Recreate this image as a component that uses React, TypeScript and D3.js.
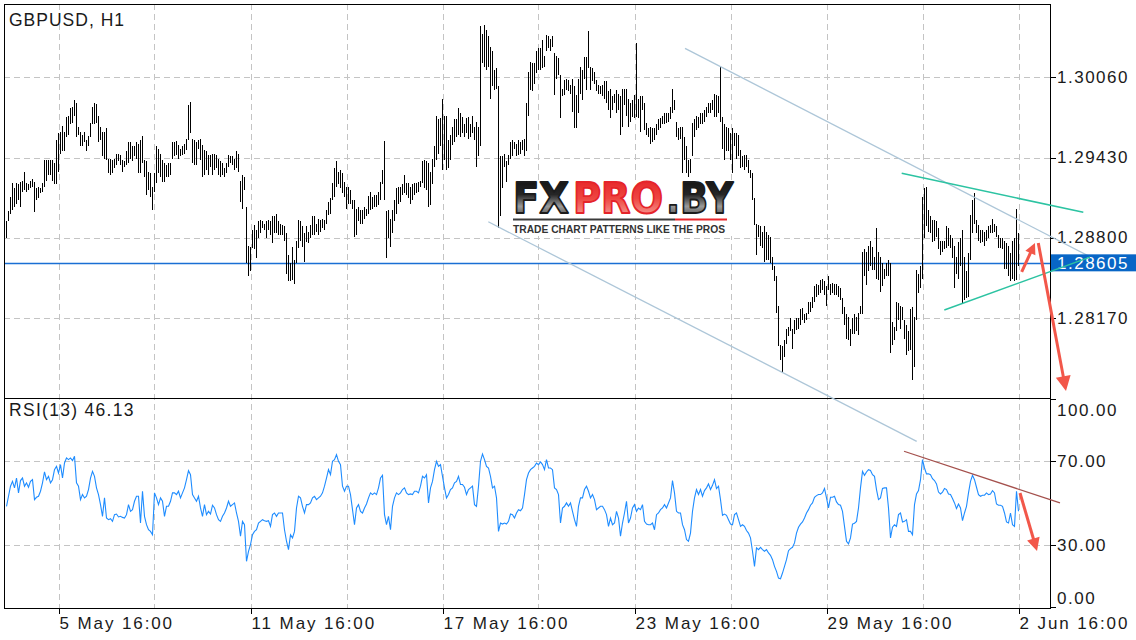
import React, { useEffect, useRef } from 'react';
import * as d3 from 'd3';

// GBPUSD H1 bars (high / low), one per hour
const highs = [
  1.2893,1.2901,1.2912,1.2923,1.2919,1.2923,1.2922,1.2924,1.2925,1.2932,
  1.2923,1.2922,1.2925,1.2926,1.2924,1.2919,1.2920,1.2919,1.2923,1.2941,
  1.2941,1.2941,1.2941,1.2941,1.2939,1.2957,1.2962,1.2963,1.2968,1.2963,
  1.2975,1.2976,1.2982,1.2983,1.2988,1.2986,1.2967,1.2963,1.2961,1.2963,
  1.2957,1.2960,1.2970,1.2983,1.2986,1.2985,1.2976,1.2967,1.2963,1.2963,
  1.2966,1.2942,1.2942,1.2941,1.2942,1.2946,1.2946,1.2945,1.2941,1.2940,
  1.2948,1.2955,1.2955,1.2952,1.2952,1.2955,1.2954,1.2957,1.2960,1.2941,
  1.2940,1.2932,1.2931,1.2920,1.2931,1.2952,1.2950,1.2946,1.2941,1.2939,
  1.2937,1.2939,1.2939,1.2955,1.2955,1.2956,1.2953,1.2950,1.2952,1.2954,
  1.2958,1.2984,1.2987,1.2958,1.2957,1.2955,1.2957,1.2958,1.2953,1.2949,
  1.2948,1.2945,1.2945,1.2946,1.2946,1.2945,1.2942,1.2940,1.2939,1.2935,
  1.2939,1.2945,1.2944,1.2944,1.2942,1.2948,1.2946,1.2925,1.2929,1.2928,
  1.2904,1.2874,1.2873,1.2886,1.2890,1.2886,1.2893,1.2894,1.2893,1.2891,
  1.2893,1.2894,
  1.2893,1.2897,1.2897,1.2899,1.2893,1.2891,1.2890,1.2889,1.2884,1.2867,
  1.2860,1.2873,1.2863,1.2878,1.2894,1.2893,1.2889,1.2884,1.2889,1.2885,
  1.2890,1.2897,1.2897,1.2891,1.2895,1.2894,1.2895,1.2894,1.2902,1.2908,
  1.2911,1.2923,1.2935,1.2940,1.2932,1.2933,1.2931,1.2924,1.2920,1.2920,
  1.2918,1.2910,1.2910,1.2903,1.2904,1.2902,1.2902,1.2904,1.2903,1.2913,
  1.2916,1.2912,1.2914,1.2914,1.2916,1.2924,1.2933,1.2956,1.2901,1.2902,
  1.2895,1.2902,1.2910,1.2919,1.2920,1.2920,1.2922,1.2929,1.2923,1.2923,
  1.2920,1.2922,1.2923,1.2923,1.2924,1.2925,1.2940,1.2941,1.2940,1.2939,
  1.2932,1.2942,1.2952,1.2976,1.2973,1.2974,1.2989,1.2976,1.2976,1.2957,
  1.2961,1.2967,1.2973,1.2973,1.2982,1.2978,1.2975,1.2969,1.2974,1.2975,
  1.2969,1.2976,1.2967,1.2971,1.2967,1.3046,1.3040,1.3047,1.3043,1.3038,
  1.3030,1.3027,1.3012,1.3013,1.2999,1.2944,1.2944,1.2946,1.2940,1.2945,
  1.2955,1.2957,1.2955,1.2954,1.2957,1.2955,1.2957,1.2958,1.2986,1.3010,
  1.3018,1.3017,1.3017,1.3027,1.3029,1.3029,1.3035,1.3023,1.3039,1.3038,
  1.3036,1.3038,1.3025,1.3023,1.3021,1.3008,1.2997,1.3004,1.3005,1.3004,
  1.3000,1.3005,1.2999,1.2992,1.3005,1.3014,1.3012,1.3022,1.3022,1.3042,
  1.3014,1.3013,1.3010,1.3004,1.3000,1.2999,1.3000,1.3003,1.3003,1.2995,
  1.2997,1.2991,1.2993,1.2996,1.2993,1.2991,1.2997,1.2997,1.2997,1.2989,
  1.2986,1.2988,1.2992,1.3033,1.2989,1.2991,1.2991,1.2986,1.2970,1.2966,
  1.2967,1.2966,1.2966,1.2969,1.2973,1.2974,1.2976,1.2978,1.2978,1.2978,
  1.2983,1.2997,1.2988,1.2971,1.2966,1.2967,1.2967,1.2959,1.2952,1.2941,
  1.2942,1.2970,1.2973,1.2976,1.2975,1.2978,1.2978,1.2980,1.2983,1.2986,
  1.2986,1.2988,1.2993,1.2992,1.2991,1.3014,1.2975,1.2969,1.2967,1.2966,
  1.2962,1.2966,1.2962,1.2962,1.2961,1.2949,1.2944,1.2945,1.2945,1.2941,
  1.2933,1.2931,1.2911,1.2891,1.2890,1.2889,1.2885,1.2889,1.2885,1.2882,
  1.2881,1.2865,1.2858,1.2850,1.2827,1.2796,1.2795,1.2800,1.2809,1.2810,
  1.2817,1.2809,1.2816,1.2817,1.2817,1.2824,1.2825,1.2820,1.2821,1.2830,
  1.2830,1.2834,1.2842,1.2844,1.2843,1.2847,1.2848,1.2846,1.2842,1.2850,
  1.2844,1.2845,1.2844,1.2844,1.2842,1.2841,1.2833,1.2826,1.2820,1.2818,
  1.2809,1.2817,1.2820,1.2818,1.2821,1.2827,1.2869,1.2871,1.2869,1.2874,
  1.2878,1.2873,1.2865,1.2888,1.2869,1.2865,1.2860,1.2856,1.2860,1.2863,
  1.2860,1.2814,1.2810,1.2830,1.2829,1.2827,1.2826,1.2816,1.2812,1.2807,
  1.2824,1.2826,1.2818,1.2855,1.2852,1.2858,1.2912,1.2919,1.2920,1.2902,
  1.2897,1.2894,1.2894,1.2893,1.2888,1.2878,1.2878,1.2878,1.2889,1.2888,
  1.2882,1.2880,1.2874,1.2865,1.2877,1.2880,1.2886,1.2865,1.2854,1.2868,
  1.2898,1.2910,1.2915,1.2894,1.2890,1.2886,1.2886,1.2885,1.2886,1.2889,
  1.2890,1.2895,1.2891,1.2889,1.2882,1.2880,1.2880,1.2878,1.2876,1.2874,
  1.2868,1.2878,1.2880,1.2903,1.2884,
];

const lows = [
  1.2880,1.2893,1.2899,1.2902,1.2904,1.2907,1.2910,1.2904,1.2916,1.2918,
  1.2916,1.2918,1.2919,1.2920,1.2900,1.2910,1.2911,1.2915,1.2916,1.2920,
  1.2925,1.2929,1.2929,1.2925,1.2922,1.2922,1.2932,1.2946,1.2948,1.2948,
  1.2959,1.2961,1.2969,1.2970,1.2976,1.2959,1.2961,1.2952,1.2952,1.2955,
  1.2948,1.2952,1.2959,1.2969,1.2969,1.2970,1.2955,1.2957,1.2944,1.2942,
  1.2941,1.2931,1.2929,1.2931,1.2935,1.2937,1.2940,1.2937,1.2932,1.2936,
  1.2937,1.2939,1.2942,1.2940,1.2944,1.2942,1.2931,1.2931,1.2939,1.2928,
  1.2914,1.2918,1.2912,1.2902,1.2916,1.2923,1.2931,1.2928,1.2924,1.2924,
  1.2928,1.2928,1.2929,1.2942,1.2944,1.2945,1.2942,1.2944,1.2945,1.2946,
  1.2949,1.2957,1.2962,1.2939,1.2937,1.2937,1.2950,1.2941,1.2928,1.2929,
  1.2933,1.2929,1.2936,1.2929,1.2933,1.2935,1.2929,1.2928,1.2929,1.2928,
  1.2931,1.2936,1.2939,1.2937,1.2933,1.2935,1.2932,1.2908,1.2903,1.2918,
  1.2860,1.2850,1.2854,1.2872,1.2871,1.2864,1.2880,1.2884,1.2888,1.2886,
  1.2880,1.2886,
  1.2882,1.2876,1.2884,1.2884,1.2882,1.2882,1.2882,1.2878,1.2852,1.2846,
  1.2846,1.2847,1.2844,1.2860,1.2872,1.2878,1.2873,1.2861,1.2877,1.2876,
  1.2880,1.2882,1.2882,1.2885,1.2882,1.2885,1.2888,1.2886,1.2891,1.2898,
  1.2899,1.2910,1.2912,1.2920,1.2922,1.2919,1.2915,1.2912,1.2903,1.2907,
  1.2907,1.2903,1.2881,1.2882,1.2893,1.2891,1.2891,1.2895,1.2897,1.2899,
  1.2902,1.2903,1.2904,1.2904,1.2906,1.2910,1.2922,1.2910,1.2864,1.2880,
  1.2873,1.2884,1.2893,1.2899,1.2907,1.2908,1.2914,1.2915,1.2914,1.2911,
  1.2907,1.2910,1.2914,1.2915,1.2916,1.2920,1.2923,1.2919,1.2918,1.2904,
  1.2906,1.2922,1.2936,1.2941,1.2946,1.2952,1.2933,1.2941,1.2933,1.2935,
  1.2941,1.2953,1.2955,1.2959,1.2961,1.2959,1.2962,1.2959,1.2962,1.2958,
  1.2959,1.2962,1.2957,1.2936,1.2944,1.2952,1.3017,1.3014,1.3012,1.3014,
  1.2989,1.2999,1.2996,1.2997,1.2888,1.2897,1.2919,1.2936,1.2924,1.2937,
  1.2942,1.2944,1.2950,1.2944,1.2945,1.2946,1.2949,1.2944,1.2948,1.2976,
  1.2996,1.2995,1.3001,1.3009,1.3012,1.3012,1.3013,1.3014,1.3027,1.3029,
  1.3027,1.3030,1.2992,1.3005,1.3008,1.2974,1.2991,1.2992,1.2996,1.2995,
  1.2993,1.2979,1.2966,1.2966,1.2978,1.2993,1.2988,1.3005,1.2996,1.3013,
  1.2996,1.3003,1.3001,1.2995,1.2993,1.2993,1.2991,1.2989,1.2986,1.2980,
  1.2974,1.2980,1.2986,1.2978,1.2980,1.2961,1.2967,1.2984,1.2976,1.2967,
  1.2971,1.2975,1.2974,1.2975,1.2974,1.2963,1.2980,1.2965,1.2961,1.2959,
  1.2954,1.2955,1.2957,1.2961,1.2965,1.2966,1.2969,1.2969,1.2970,1.2971,
  1.2973,1.2978,1.2980,1.2959,1.2957,1.2958,1.2931,1.2941,1.2931,1.2928,
  1.2931,1.2944,1.2959,1.2965,1.2966,1.2969,1.2969,1.2971,1.2975,1.2978,
  1.2978,1.2980,1.2975,1.2975,1.2978,1.2971,1.2950,1.2941,1.2948,1.2948,
  1.2941,1.2931,1.2952,1.2942,1.2944,1.2935,1.2936,1.2933,1.2936,1.2931,
  1.2927,1.2910,1.2890,1.2867,1.2881,1.2874,1.2872,1.2861,1.2863,1.2863,
  1.2860,1.2855,1.2846,1.2821,1.2795,1.2784,1.2775,1.2787,1.2797,1.2803,
  1.2807,1.2793,1.2805,1.2808,1.2809,1.2812,1.2816,1.2813,1.2816,1.2820,
  1.2822,1.2825,1.2830,1.2834,1.2835,1.2837,1.2839,1.2835,1.2827,1.2839,
  1.2835,1.2837,1.2835,1.2835,1.2834,1.2831,1.2820,1.2812,1.2801,1.2800,
  1.2795,1.2805,1.2805,1.2807,1.2804,1.2820,1.2820,1.2850,1.2843,1.2854,
  1.2858,1.2855,1.2855,1.2848,1.2847,1.2838,1.2842,1.2848,1.2850,1.2850,
  1.2790,1.2796,1.2800,1.2807,1.2816,1.2809,1.2816,1.2801,1.2788,1.2791,
  1.2792,1.2769,1.2779,1.2816,1.2837,1.2841,1.2848,1.2880,1.2889,1.2885,
  1.2884,1.2877,1.2878,1.2881,1.2871,1.2867,1.2869,1.2871,1.2872,1.2874,
  1.2872,1.2864,1.2841,1.2852,1.2848,1.2858,1.2829,1.2831,1.2833,1.2834,
  1.2863,1.2884,1.2891,1.2884,1.2878,1.2876,1.2877,1.2874,1.2878,1.2880,
  1.2884,1.2884,1.2885,1.2881,1.2872,1.2872,1.2871,1.2856,1.2856,1.2850,
  1.2846,1.2848,1.2846,1.2847,1.2858,
];

const rsiValues = [
  48.5,53.3,58.1,60.4,57.3,62.0,54.9,60.8,62.0,58.1,
  59.7,57.6,60.4,61.2,51.7,52.8,53.3,55.7,59.7,64.9,
  61.2,62.8,59.7,61.2,66.0,67.6,64.4,68.4,62.0,69.2,
  71.6,70.8,71.6,70.3,72.4,59.7,58.1,51.7,54.1,52.5,
  53.3,56.5,62.0,65.2,62.8,57.3,54.1,49.3,43.7,52.5,
  42.9,42.1,42.6,41.3,44.5,44.8,43.4,43.7,43.2,42.9,
  44.5,49.3,46.1,46.9,50.9,53.3,53.3,40.5,55.7,43.7,
  39.7,37.3,36.5,34.9,54.9,52.5,49.3,52.5,50.9,43.7,
  48.5,48.5,50.9,54.9,54.9,54.1,55.7,52.5,54.9,57.3,
  61.2,65.5,63.6,54.1,52.5,50.9,53.3,47.7,43.7,49.3,
  44.5,46.1,44.8,49.0,47.7,44.5,42.1,41.3,43.7,45.3,
  47.7,50.9,48.5,49.3,50.1,45.3,41.3,34.2,41.3,39.7,
  22.2,27.0,30.2,34.9,36.5,37.3,40.5,41.3,42.1,41.6,
  41.3,41.6,38.9,44.5,45.3,43.7,45.3,45.3,45.3,37.3,
  31.8,27.8,34.9,33.4,36.5,47.7,53.3,52.5,48.5,45.3,
  49.3,49.3,50.1,52.5,53.3,51.7,52.5,53.3,54.9,58.1,
  62.0,66.0,63.6,70.0,70.8,73.2,70.0,68.4,58.1,55.7,
  58.1,58.1,54.1,46.9,39.7,47.7,49.3,46.1,45.3,47.7,
  49.6,52.5,54.9,54.1,54.9,54.1,57.3,62.0,63.3,44.5,
  39.7,43.7,37.3,48.5,52.5,54.9,54.1,54.9,56.5,57.3,
  54.9,54.1,54.4,54.1,55.7,55.7,54.9,58.1,62.8,62.0,
  63.6,50.1,57.3,60.4,66.0,70.0,67.6,68.4,62.8,57.3,
  52.5,54.1,56.5,57.3,59.7,60.4,62.8,58.9,58.9,57.6,
  54.1,56.5,57.3,58.1,49.3,48.5,58.1,70.0,73.5,70.8,
  67.6,66.8,62.8,57.3,58.1,52.5,36.5,40.5,40.0,40.5,
  40.0,41.3,44.8,44.5,42.9,45.3,46.9,46.4,47.7,54.1,
  61.2,64.4,66.0,66.8,67.6,69.2,68.4,69.7,68.4,66.0,
  70.8,66.8,66.8,66.0,57.3,56.5,54.1,40.5,47.7,48.5,
  50.1,48.5,50.1,46.1,42.1,38.9,48.5,52.5,52.5,56.5,
  58.1,55.7,52.5,54.1,51.7,46.9,47.7,48.5,48.5,46.9,
  44.5,38.9,42.9,39.7,40.5,46.1,42.9,34.2,40.5,45.3,
  50.9,40.5,42.9,47.7,49.3,46.1,47.7,46.9,49.3,41.3,
  40.0,39.7,39.7,40.5,37.3,44.5,45.3,46.9,47.7,49.3,
  47.7,50.1,52.5,60.8,54.9,46.1,45.3,45.3,39.7,37.3,
  32.6,31.8,35.7,46.1,52.5,56.5,54.1,56.5,53.3,56.0,
  57.3,59.2,56.5,58.5,61.2,57.0,58.1,51.7,44.2,44.8,
  44.2,42.1,40.0,39.7,44.5,45.3,42.1,38.9,39.7,38.9,
  36.9,35.7,33.4,27.0,19.8,28.6,27.8,28.9,27.8,27.0,
  27.8,26.2,25.1,23.0,19.8,17.4,14.2,13.9,16.6,19.8,
  23.0,27.3,28.3,28.9,31.0,35.7,38.5,40.0,41.0,42.9,
  45.3,46.9,49.0,50.1,52.8,53.6,54.1,54.1,54.9,57.0,
  52.5,47.7,52.8,52.8,53.3,50.6,49.3,49.0,46.1,38.9,
  31.8,30.6,33.4,40.0,40.4,41.3,47.7,57.3,65.2,63.3,
  64.9,66.0,65.6,63.6,62.8,56.5,51.7,52.5,57.0,57.3,
  57.3,47.7,33.4,38.5,39.7,38.9,44.5,45.3,41.0,41.3,
  42.1,36.5,36.5,34.9,49.3,54.4,56.0,61.2,70.8,66.8,
  64.0,64.0,63.6,61.7,60.8,59.2,55.3,54.4,55.3,57.0,
  56.5,54.4,54.1,52.2,50.1,47.4,49.6,47.7,41.6,45.3,
  48.5,54.9,60.4,63.3,61.2,57.6,54.1,53.3,53.8,53.8,
  54.9,54.1,54.4,56.0,54.9,49.6,49.0,49.0,48.5,45.3,
  41.0,40.5,45.3,39.7,38.9,55.7,46.1,
];

const priceTicks = [1.3006, 1.2943, 1.288, 1.2817];
const rsiTicks = [100, 70, 30, 0];
const rsiGrid = [70, 30];
const timeTickBars = [26, 122, 218, 314, 410, 506];
const timeTickLabels = ['5 May 16:00', '11 May 16:00', '17 May 16:00', '23 May 16:00', '29 May 16:00', '2 Jun 16:00'];
const gridBars = [26, 74, 122, 170, 218, 266, 314, 362, 410, 458, 506];
const lastPrice = 1.28605;
const lastRsi = 46.13;

// drawn objects as [bar index, value]
type Pt = [number, number];
const channelUpper: Pt[] = [[339.25, 1.30287], [541.75, 1.28653]];
const channelLower: Pt[] = [[240.9, 1.28927], [455.1, 1.27205]];
const triangleUpper: Pt[] = [[447.6, 1.29307], [538.4, 1.29001]];
const triangleLower: Pt[] = [[468.9, 1.28235], [541.75, 1.2865]];
const rsiTrend: Pt[] = [[448.75, 74.8], [526.75, 50.1]];
const arrowUp: Pt[] = [[507.6, 1.28535], [514.25, 1.2876]];
const arrowDown: Pt[] = [[515.9, 1.2876], [529.75, 1.27599]];
const arrowRsi: Pt[] = [[506.75, 54.85], [515.25, 27.1]];

const W = 1136;
const H = 640;

const App: React.FC = () => {
  const svgRef = useRef<SVGSVGElement>(null);

  useEffect(() => {
    if (!svgRef.current) return;
    const left = 4, right = 1050, top = 4, mid = 398, bottom = 608;
    const font = '"Liberation Sans", Arial, sans-serif';

    const svg = d3.select(svgRef.current).html('');

    const x = d3.scaleLinear().domain([0, 506]).range([6.5, 1018.5]);
    const yP = d3.scaleLinear().domain([1.2817, 1.3006]).range([318.3, 77.3]);
    const yR = d3.scaleLinear().domain([0, 100]).range([607.8, 398.5]);
    const snap = (v: number) => Math.round(v) + 0.5;

    svg.append('rect').attr('width', W).attr('height', H).attr('fill', '#fff');

    const defs = svg.append('defs');
    const dark = defs.append('linearGradient').attr('id', 'logoDark').attr('x1', 0).attr('y1', 0).attr('x2', 0).attr('y2', 1);
    [['0%', '#0d0d0d'], ['42%', '#262626'], ['66%', '#9a9a9a'], ['100%', '#262626']].forEach(([o, c]) =>
      dark.append('stop').attr('offset', o).attr('stop-color', c));
    const red = defs.append('linearGradient').attr('id', 'logoRed').attr('x1', 0).attr('y1', 0).attr('x2', 0).attr('y2', 1);
    [['0%', '#e41c23'], ['50%', '#ee4741'], ['100%', '#f8b9b2']].forEach(([o, c]) =>
      red.append('stop').attr('offset', o).attr('stop-color', c));

    // grid
    const grid = svg.append('g').attr('stroke', '#c4c4c4').attr('stroke-dasharray', '6,4').attr('stroke-width', 1);
    gridBars.forEach(b => {
      grid.append('line').attr('x1', snap(x(b))).attr('x2', snap(x(b))).attr('y1', top).attr('y2', bottom);
    });
    priceTicks.forEach(p => {
      grid.append('line').attr('x1', left).attr('x2', right).attr('y1', snap(yP(p))).attr('y2', snap(yP(p)));
    });
    rsiGrid.forEach(v => {
      grid.append('line').attr('x1', left).attr('x2', right).attr('y1', snap(yR(v))).attr('y2', snap(yR(v)));
    });

    // current price line
    svg.append('line')
      .attr('x1', left).attr('x2', right)
      .attr('y1', snap(yP(lastPrice))).attr('y2', snap(yP(lastPrice)))
      .attr('stroke', '#1a6fd4').attr('stroke-width', 1.3);

    // bars
    const bars = svg.append('g').attr('stroke', '#000').attr('stroke-width', 1).attr('shape-rendering', 'crispEdges');
    highs.forEach((h, i) => {
      const y1 = yP(h);
      const y2 = Math.max(yP(lows[i]), y1 + 1);
      bars.append('line').attr('x1', x(i)).attr('x2', x(i)).attr('y1', y1).attr('y2', y2);
    });

    // watermark
    const logo = svg.append('g');
    logo.append('rect').attr('x', 508).attr('y', 181).attr('width', 230).attr('height', 55).attr('fill', '#fff');
    const logoWord = (tx: number, len: number, s: string, fill: string, stroke: string) =>
      logo.append('text')
        .attr('x', tx).attr('y', 213)
        .attr('textLength', len).attr('lengthAdjust', 'spacingAndGlyphs')
        .style('font-family', '"DejaVu Sans", sans-serif').style('font-weight', 'bold').style('font-size', '42px')
        .attr('fill', fill).attr('stroke', stroke).attr('stroke-width', 1.8).attr('stroke-linejoin', 'round')
        .text(s);
    logoWord(513, 56, 'FX', 'url(#logoDark)', '#1c1c1c');
    logoWord(573, 90, 'PRO', 'url(#logoRed)', '#e5242a');
    logoWord(666, 67, '.BY', 'url(#logoDark)', '#1c1c1c');
    logo.append('rect').attr('x', 513).attr('y', 218.5).attr('width', 162).attr('height', 2).attr('fill', '#3a3a3a');
    logo.append('rect').attr('x', 675).attr('y', 218.5).attr('width', 52).attr('height', 2).attr('fill', '#e8262b');
    logo.append('text')
      .attr('x', 513).attr('y', 233)
      .attr('textLength', 212).attr('lengthAdjust', 'spacingAndGlyphs')
      .style('font-family', font).style('font-weight', 'bold').style('font-size', '11px')
      .attr('fill', '#333').text('TRADE CHART PATTERNS LIKE THE PROS');

    // RSI
    const rsiLine = d3.line<number>().x((_, i) => x(i)).y(d => yR(d));
    svg.append('path').datum(rsiValues)
      .attr('d', rsiLine)
      .attr('fill', 'none').attr('stroke', '#1e8cff').attr('stroke-width', 1.1);

    // frame
    const frame = svg.append('g').attr('stroke', '#000').attr('stroke-width', 1).attr('fill', 'none').attr('shape-rendering', 'crispEdges');
    frame.append('rect').attr('x', left + 0.5).attr('y', top + 0.5).attr('width', right - left).attr('height', bottom - top);
    frame.append('line').attr('x1', left).attr('x2', right).attr('y1', mid + 0.5).attr('y2', mid + 0.5);
    priceTicks.forEach(p => {
      frame.append('line').attr('x1', right).attr('x2', right + 6).attr('y1', snap(yP(p))).attr('y2', snap(yP(p)));
    });
    const rsiTickY: Record<number, number> = { 100: 399, 70: yR(70), 30: yR(30), 0: 607 };
    const rsiLabelY: Record<number, number> = { 100: 416, 70: yR(70) + 6, 30: yR(30) + 6, 0: 604 };
    rsiTicks.forEach(v => {
      const yy = snap(rsiTickY[v]);
      frame.append('line').attr('x1', right).attr('x2', right + 6).attr('y1', yy).attr('y2', yy);
    });
    timeTickBars.forEach(b => {
      frame.append('line').attr('x1', snap(x(b))).attr('x2', snap(x(b))).attr('y1', bottom).attr('y2', bottom + 6);
    });

    // labels
    const label = (tx: number, ty: number, s: string, size: number, ls: number, fill = '#1a1a1a') =>
      svg.append('text').attr('x', tx).attr('y', ty)
        .style('font-family', font).style('font-size', `${size}px`).style('letter-spacing', `${ls}px`)
        .attr('fill', fill).text(s);

    label(9, 26, 'GBPUSD, H1', 17.5, 1);
    label(9, 415.5, `RSI(13) ${lastRsi.toFixed(2)}`, 17.5, 1.3);
    priceTicks.forEach(p => label(1057, yP(p) + 5.5, p.toFixed(5), 17, 1.5));
    rsiTicks.forEach(v => label(1057, rsiLabelY[v], v.toFixed(2), 17, 1.5));
    timeTickBars.forEach((b, i) => label(x(b) + 1, 629, timeTickLabels[i], 17, 1.9));

    // trend lines
    const toP = (pts: Pt[]) => pts.map(([i, v]) => [x(i), yP(v)] as [number, number]);
    const toR = (pts: Pt[]) => pts.map(([i, v]) => [x(i), yR(v)] as [number, number]);
    const seg = (pts: [number, number][], color: string, w: number) =>
      svg.append('line')
        .attr('x1', pts[0][0]).attr('y1', pts[0][1]).attr('x2', pts[1][0]).attr('y2', pts[1][1])
        .attr('stroke', color).attr('stroke-width', w);

    seg(toP(channelUpper), '#adc6d8', 1.3);
    seg(toP(channelLower), '#adc6d8', 1.3);

    // last price box
    const py = yP(lastPrice);
    svg.append('rect').attr('x', 1051).attr('y', py - 8.5).attr('width', W - 1051).attr('height', 17).attr('fill', '#0866c6');
    label(1057, py + 6, lastPrice.toFixed(5), 17, 1.5, '#fff');

    seg(toP(triangleUpper), '#2cc3a2', 1.5);
    seg(toP(triangleLower), '#2cc3a2', 1.5);
    seg(toR(rsiTrend), '#a4504c', 1.3);

    const arrow = (pts: [number, number][], headL: number, headW: number) => {
      const [p0, p1] = pts;
      const dx = p1[0] - p0[0], dy = p1[1] - p0[1];
      const len = Math.hypot(dx, dy);
      const ux = dx / len, uy = dy / len;
      const bx = p1[0] - ux * headL, by = p1[1] - uy * headL;
      svg.append('line')
        .attr('x1', p0[0]).attr('y1', p0[1]).attr('x2', bx + ux * 2).attr('y2', by + uy * 2)
        .attr('stroke', '#f2574a').attr('stroke-width', 3);
      svg.append('path')
        .attr('d', `M${p1[0]},${p1[1]}L${bx - uy * headW},${by + ux * headW}L${bx + uy * headW},${by - ux * headW}Z`)
        .attr('fill', '#f2574a');
    };
    arrow(toP(arrowUp), 11, 5.5);
    arrow(toP(arrowDown), 15, 7.5);
    arrow(toR(arrowRsi), 13, 6.5);
  }, []);

  return (
    <svg ref={svgRef} width={W} height={H} style={{ position: 'absolute', left: 0, top: 0, display: 'block' }} />
  );
};

export default App;
